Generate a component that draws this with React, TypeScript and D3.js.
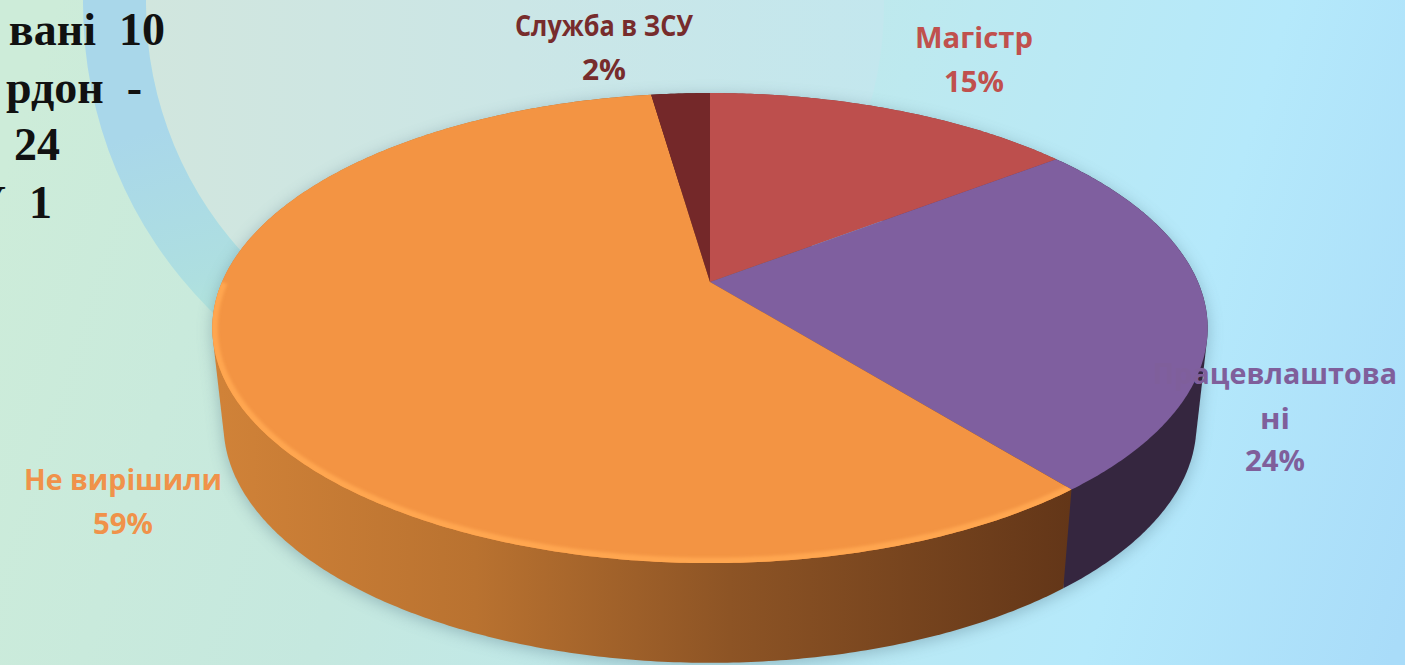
import React from "react";
import * as d3 from "d3";

const W = 1405;
const H = 665;

// Slice order runs clockwise from 12 o'clock
const categories = ["Магістр", "Працевлаштовані", "Не вирішили", "Служба в ЗСУ"];
const sliceShares = [14.6, 24.6, 58.5, 2.3];
const percentLabels = ["15%", "24%", "59%", "2%"];
const topColors = ["#bd4f4d", "#7f5f9f", "#f39443", "#742829"];
const sideFills = ["#8a3836", "#35263f", "url(#wallOrange)", "#4e1c1c"];
const labelColors = ["#c0504d", "#7f5f9b", "#f0924a", "#772c2c"];
const labelLines = [["Магістр"], ["Працевлаштова", "ні"], ["Не вирішили"], ["Служба в ЗСУ"]];
const labelLineWidths = [[118], [244, 30], [198], [178]];
const percentWidths = [60, 60, 60, 44];
const labelX = [974, 1275, 123, 604];
const labelFirstBaseline = [48, 384, 490, 36];
const noteLines = ["вані  10", "рдон  -", "24", "У  1"];

// Perspective projection of a flat disc
const K = 0.196;
const topPlane = { cx: 710, cy: 282, a: 488, b: 226 };
const botPlane = { cx: 710, cy: 378, a: 477, b: 229 };
type Plane = typeof topPlane;
const project = (p: Plane, t: number): [number, number] => {
  const s = Math.sin(t);
  const c = Math.cos(t);
  const d = 1 + K * c;
  return [p.cx + (p.a * s) / d, p.cy - (p.b * c) / d];
};
const samples = (a0: number, a1: number) => {
  const n = Math.max(4, Math.ceil((a1 - a0) / 0.01));
  return d3.range(n + 1).map((i) => a0 + ((a1 - a0) * i) / n);
};
const line = d3.line<[number, number]>();

const pieGen = d3.pie<number>().sort(null).value((d) => d);
const arcs = pieGen(sliceShares);

const topPath = (a0: number, a1: number) =>
  line([[topPlane.cx, topPlane.cy], ...samples(a0, a1).map((t) => project(topPlane, t))])! + "Z";
const edgePath = (a0: number, a1: number) => line(samples(a0, a1).map((t) => project(topPlane, t)))!;
// The wall is the hull of a slice's upper and lower rims, which gives straight silhouette sides
const wallPath = (a0: number, a1: number) => {
  const ts = samples(a0, a1);
  const hull = d3.polygonHull([
    ...ts.map((t) => project(topPlane, t)),
    ...ts.map((t) => project(botPlane, t)),
  ])!;
  return line(hull)! + "Z";
};
const fullBottom = wallPath(0, Math.PI * 2);
const bevelEnd = Math.PI * 1.5; // the bevel shows on the front half of the rim only

const ringCenter = { x: 515, y: 4 };
const ringInner = 369;
const ringOuter = 432;
const ringPath = d3.arc()({
  innerRadius: ringInner,
  outerRadius: ringOuter,
  startAngle: Math.PI,
  endAngle: Math.PI * 2,
} as any)!;

export default function App() {
  const labelFont = "'Open Sans', 'Noto Sans', sans-serif";
  return (
    <svg
      width={W}
      height={H}
      viewBox={`0 0 ${W} ${H}`}
      style={{ position: "absolute", left: 0, top: 0, display: "block" }}
    >
      <defs>
        <linearGradient id="bg" gradientUnits="userSpaceOnUse" x1="0" y1="180" x2="1405" y2="620">
          <stop offset="0" stopColor="#cdecd9" />
          <stop offset="0.3" stopColor="#c5e8df" />
          <stop offset="0.6" stopColor="#bce9f1" />
          <stop offset="0.8" stopColor="#b5e9fb" />
          <stop offset="1" stopColor="#a9dcf9" />
        </linearGradient>
        <linearGradient id="disc" gradientUnits="userSpaceOnUse" x1="146" y1="0" x2="883" y2="0">
          <stop offset="0" stopColor="#d1e6de" />
          <stop offset="0.5" stopColor="#cbe6e6" />
          <stop offset="1" stopColor="#c3e7ee" />
        </linearGradient>
        <linearGradient id="ring" gradientUnits="userSpaceOnUse" x1="110" y1="0" x2="190" y2="300">
          <stop offset="0" stopColor="#a9d7ea" />
          <stop offset="0.5" stopColor="#aedfe0" />
          <stop offset="1" stopColor="#bcf2cf" />
        </linearGradient>
        <linearGradient id="wallOrange" gradientUnits="userSpaceOnUse" x1="220" y1="0" x2="1070" y2="0">
          <stop offset="0" stopColor="#d08238" />
          <stop offset="0.3" stopColor="#b97230" />
          <stop offset="0.6" stopColor="#8d5425" />
          <stop offset="1" stopColor="#633618" />
        </linearGradient>
        <filter id="shadow" x="-10%" y="-10%" width="120%" height="120%">
          <feGaussianBlur stdDeviation="8" />
        </filter>
        <filter id="soft" x="-10%" y="-10%" width="120%" height="120%">
          <feGaussianBlur stdDeviation="1.5" />
        </filter>
        <clipPath id="orangeClip">
          <path d={topPath(arcs[2].startAngle, arcs[2].endAngle)} />
        </clipPath>
      </defs>

      <rect width={W} height={H} fill="url(#bg)" />
      <circle cx={ringCenter.x} cy={ringCenter.y} r={ringInner} fill="url(#disc)" />
      <path
        fill="url(#ring)"
        d={ringPath}
        transform={`translate(${ringCenter.x},${ringCenter.y})`}
      />

      {/* drop shadow beneath the disc */}
      <path d={fullBottom} fill="#4d6f80" opacity={0.4} filter="url(#shadow)" transform="translate(0,3)" />

      {/* side walls */}
      {arcs.map((d, i) => (
        <path key={`w${i}`} d={wallPath(d.startAngle, d.endAngle)} fill={sideFills[i]} />
      ))}

      {/* top faces */}
      {arcs.map((d, i) => (
        <path key={`t${i}`} d={topPath(d.startAngle, d.endAngle)} fill={topColors[i]} />
      ))}

      {/* bevel on the front rim of the largest slice */}
      <g clipPath="url(#orangeClip)">
        <path
          d={edgePath(arcs[2].startAngle, bevelEnd)}
          fill="none"
          stroke="#ffa650"
          strokeWidth={11}
          filter="url(#soft)"
        />
      </g>

      {/* data labels */}
      {categories.map((c, i) => (
        <text
          key={c}
          textAnchor="middle"
          fontFamily={labelFont}
          fontWeight={700}
          fontSize={29}
          fill={labelColors[i]}
        >
          {labelLines[i].map((l, j) => (
            <tspan
              key={j}
              x={labelX[i]}
              y={labelFirstBaseline[i] + j * 45}
              textLength={labelLineWidths[i][j]}
              lengthAdjust="spacingAndGlyphs"
            >
              {l}
            </tspan>
          ))}
          <tspan
            x={labelX[i]}
            y={labelFirstBaseline[i] + labelLines[i].length * 43.5}
            textLength={percentWidths[i]}
            lengthAdjust="spacingAndGlyphs"
          >
            {percentLabels[i]}
          </tspan>
        </text>
      ))}

      {/* note at the left edge */}
      <g fontFamily="'Liberation Serif', 'DejaVu Serif', serif" fontWeight={700} fontSize={46} fill="#111">
        <text x={165} y={45} textAnchor="end" xmlSpace="preserve">{noteLines[0]}</text>
        <text x={142} y={103} textAnchor="end" xmlSpace="preserve">{noteLines[1]}</text>
        <text x={60} y={160} textAnchor="end" xmlSpace="preserve">{noteLines[2]}</text>
        <text x={52} y={218} textAnchor="end" xmlSpace="preserve">{noteLines[3]}</text>
      </g>
    </svg>
  );
}
